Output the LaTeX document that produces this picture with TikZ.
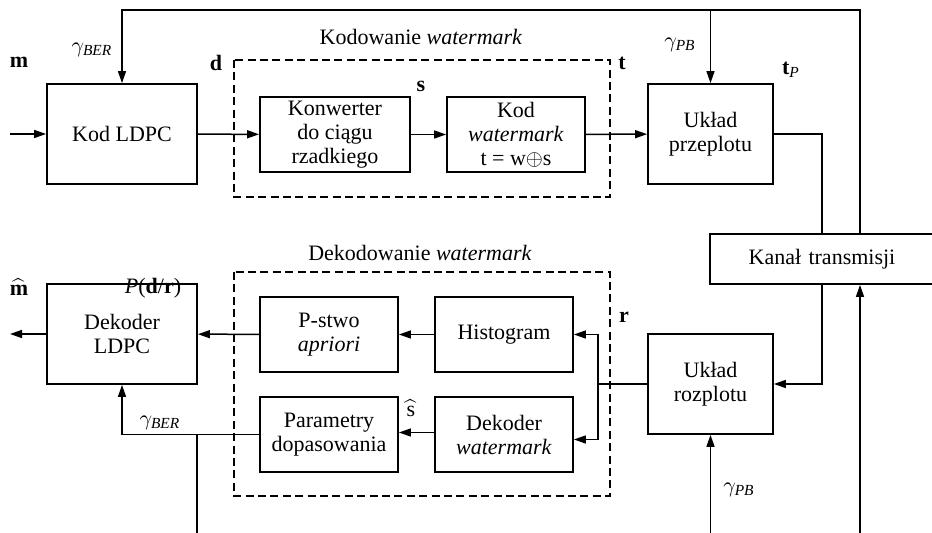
\documentclass[tikz,border=0pt]{standalone}
\usepackage{amsmath}
\usepackage{fontspec}
\setmainfont{Liberation Serif}
\usetikzlibrary{arrows.meta}

\begin{document}
\begin{tikzpicture}[x=0.5pt,y=-0.5pt,line join=miter,
  font=\fontsize{11}{12}\selectfont,
  blok/.style={draw,line width=0.9pt,align=center,inner sep=1pt},
  blokD/.style={blok,minimum width=75pt,minimum height=50pt},
  blokS/.style={blok,minimum width=69pt,minimum height=37.5pt},
  ramka/.style={line width=1.4pt,dash pattern=on 4pt off 2.2pt},
  pol/.style={line width=0.75pt},
  strz/.style={pol,-{Triangle[length=6pt,width=4pt]}},
  etyk/.style={inner sep=0pt}]

  \useasboundingbox (0,0) rectangle (932,533);
  \clip (0,0) rectangle (932,533);

  % ---- ramki przerywane ----------------------------------------------------
  \draw[ramka] (234,60) rectangle (610,197);
  \draw[ramka] (234,272) rectangle (610,496);

  % ---- tor kodowania -------------------------------------------------------
  \node[blokD] (kodLDPC) at (122,134) {Kod LDPC};
  \node[blok,minimum width=75pt,minimum height=37.5pt] (konwerter) at (335,134.5)
    {Konwerter\\do ciągu\\rzadkiego};
  \node[blokS] (kodWM) at (516,134.5) {Kod\\\textit{watermark}\\t = w$\oplus$s};
  \node[blokD,minimum width=62.5pt] (przeplot) at (710.5,134) {Układ\\przeplotu};

  % ---- kanal ---------------------------------------------------------------
  \node[blok,minimum width=112pt,minimum height=25pt,text width=108pt] (kanal) at (822,259)
    {Kanał transmisji};

  % ---- tor dekodowania -----------------------------------------------------
  \node[blokD,minimum width=62.5pt] (rozplot) at (710.5,384) {Układ\\rozplotu};
  \node[blokD] (dekLDPC) at (122,334) {Dekoder\\LDPC};
  \node[blokS] (pstwo) at (329,334.5) {P-stwo\\\textit{apriori}};
  \node[blokS] (histogram) at (504,334.5) {Histogram};
  \node[blokS] (parametry) at (329,434.5) {Parametry\\dopasowania};
  \node[blokS] (dekWM) at (504,434.5) {Dekoder\\\textit{watermark}};

  % ---- punkty pomocnicze ---------------------------------------------------
  \coordinate (wejscie) at (10,134);
  \coordinate (wyjscie) at (10,334);
  \coordinate (gora) at (860,10);
  \coordinate (szum) at (860,533);
  \coordinate (pbDol) at (710.5,533);
  \coordinate (berDol) at (197,533);
  \coordinate (rozgal) at (598,384);

  % ---- polaczenia: kodowanie -----------------------------------------------
  \draw[strz] (wejscie) -- (kodLDPC);
  \draw[strz] (kodLDPC) -- (konwerter);
  \draw[strz] (konwerter) -- (kodWM);
  \draw[strz] (kodWM) -- (przeplot);
  \draw[pol] (przeplot.east) -| (kanal.north);
  \draw[strz] (kanal.north -| gora) -- (gora) -| (kodLDPC.north);
  \draw[strz] (przeplot.north |- gora) -- (przeplot.north);

  % ---- polaczenia: dekodowanie ---------------------------------------------
  \draw[strz] (szum) -- (kanal.south -| szum);
  \draw[strz] (kanal.south) |- (rozplot.east);
  \draw[strz] (pbDol) -- (rozplot.south);
  \draw[pol] (rozplot.west) -- (rozgal);
  \draw[strz] (rozgal) |- (histogram.east);
  \draw[strz] (rozgal) |- ([yshift=-2.5pt]dekWM.east);
  \draw[strz] (histogram) -- (pstwo);
  \draw[strz] (pstwo) -- (dekLDPC);
  \draw[strz] (dekLDPC.west) -- (wyjscie);
  \draw[strz] ([yshift=1pt]dekWM.west) -- ([yshift=1pt]parametry.east);
  \draw[strz] (parametry.west) -| (dekLDPC.south);
  \draw[pol] (parametry.west -| berDol) -- (berDol);

  % ---- etykiety ------------------------------------------------------------
  \node[etyk] (lm) at (19,62) {\textbf{m}};
  \node[etyk] (lgber) at (92,50) {$\gamma_{\textit{BER}}$};
  \node[etyk] (ld) at (216,63) {\textbf{d}};
  \node[etyk] (lkod) at (421,37) {Kodowanie \textit{watermark}};
  \node[etyk] (ls) at (421,86) {\textbf{s}};
  \node[etyk] (lt) at (622,63) {\textbf{t}};
  \node[etyk] (lgpb) at (680,45) {$\gamma_{\textit{PB}}$};
  \node[etyk] (ltp) at (791,70) {$\textbf{t}_{\textit{P}}$};
  \node[etyk] (lmd) at (19,287) {$\widehat{\textbf{m}}$};
  \node[etyk] (lpdr) at (153,288) {\textit{P}(\textbf{d}/\textbf{r})};
  \node[etyk] (ldek) at (420,253) {Dekodowanie \textit{watermark}};
  \node[etyk] (lr) at (624,317) {\textbf{r}};
  \node[etyk] (lsd) at (411,408) {$\widehat{\text{s}}$};
  \node[etyk] (lgber2) at (160,423) {$\gamma_{\textit{BER}}$};
  \node[etyk] (lgpb2) at (739,490) {$\gamma_{\textit{PB}}$};

\end{tikzpicture}
\end{document}
